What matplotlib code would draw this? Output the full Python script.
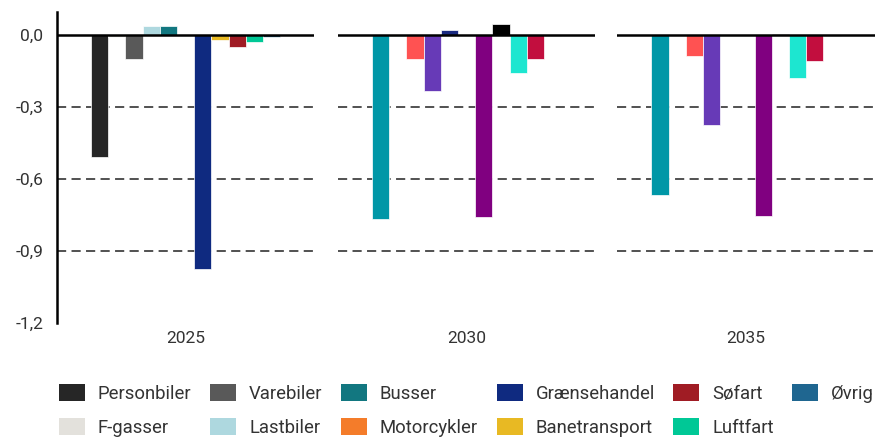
import matplotlib
matplotlib.use("Agg")
import matplotlib.pyplot as plt
from matplotlib.patches import Patch

plt.rcParams['font.family'] = ['Roboto', 'DejaVu Sans']

categories = ["Personbiler", "F-gasser", "Varebiler", "Lastbiler", "Busser", "Motorcykler",
              "Grænsehandel", "Banetransport", "Søfart", "Luftfart", "Øvrig"]
years = ["2025", "2030", "2035"]
v2025 = [-0.51, -0.01, -0.10, 0.035, 0.035, 0.0, -0.975, -0.02, -0.05, -0.03, -0.01]
v2030 = [-0.765, -0.005, -0.10, -0.235, 0.02, 0.0, -0.76, 0.045, -0.16, -0.10, -0.005]
v2035 = [-0.665, 0.0, -0.09, -0.375, 0.0, 0.0, -0.755, 0.005, -0.18, -0.11, -0.005]
values = [v2025, v2030, v2035]

legend_colors = ["#262626", "#e3e1dc", "#595959", "#aed8df", "#127780", "#f47c2a",
                 "#0f2a80", "#e8b923", "#a01c24", "#00c896", "#1f6690"]
later_colors = ["#0097a7", "#00796b", "#ff5252", "#673ab7", "#1a2a80", "#f57c00",
                "#800080", "#000000", "#1de6d0", "#c20e3e", "#aaaaaa"]
panel_colors = [legend_colors, later_colors, later_colors]

yticks = [0.0, -0.3, -0.6, -0.9, -1.2]
ytick_labels = ["0,0", "-0,3", "-0,6", "-0,9", "-1,2"]

W, H = 883, 438
fig = plt.figure(figsize=(W / 100, H / 100), dpi=100)

panels_px = [(57, 314), (338, 595), (617, 875)]
top_px, bot_px = 12, 323
slot_px = 17.2

for i, (x0, x1) in enumerate(panels_px):
    ax = fig.add_axes([x0 / W, 1 - bot_px / H, (x1 - x0) / W, (bot_px - top_px) / H])
    n = len(categories)
    xs = list(range(n))
    ax.bar(xs, values[i], width=1.0, color=panel_colors[i], edgecolor="white",
           linewidth=0.5, zorder=2)
    half = (x1 - x0) / slot_px / 2
    ax.set_xlim((n - 1) / 2 - half, (n - 1) / 2 + half)
    ax.set_ylim(-1.2, 0.095)
    for yv in [-0.3, -0.6, -0.9]:
        ax.axhline(yv, color="#222222", linewidth=1.1, linestyle=(0, (6, 3.5)), zorder=1)
    ax.axhline(0, color="black", linewidth=1.8, zorder=3)
    for s in ["top", "right", "bottom"]:
        ax.spines[s].set_visible(False)
    if i == 0:
        ax.spines["left"].set_linewidth(1.8)
        ax.spines["left"].set_color("black")
        ax.set_yticks(yticks)
        ax.set_yticklabels(ytick_labels)
        ax.tick_params(axis="y", length=0, pad=10, labelsize=12.5, labelcolor="#333333")
    else:
        ax.spines["left"].set_visible(False)
        ax.set_yticks([])
    ax.set_xticks([(n - 1) / 2])
    ax.set_xticklabels([years[i]])
    ax.tick_params(axis="x", length=0, pad=6, labelsize=12.5, labelcolor="#333333")

handles = [Patch(facecolor=c, edgecolor="none") for c in legend_colors]
fs = 13.3
fig.legend(handles, categories, loc="upper left", bbox_to_anchor=(59 / W, 1 - 384 / H),
           ncol=6, frameon=False, fontsize=fs, handlelength=1.41, handleheight=1.08,
           handletextpad=0.7, labelspacing=0.8, columnspacing=1.0,
           borderpad=0, borderaxespad=0, labelcolor="#333333")

fig.savefig("out.png", dpi=100)
